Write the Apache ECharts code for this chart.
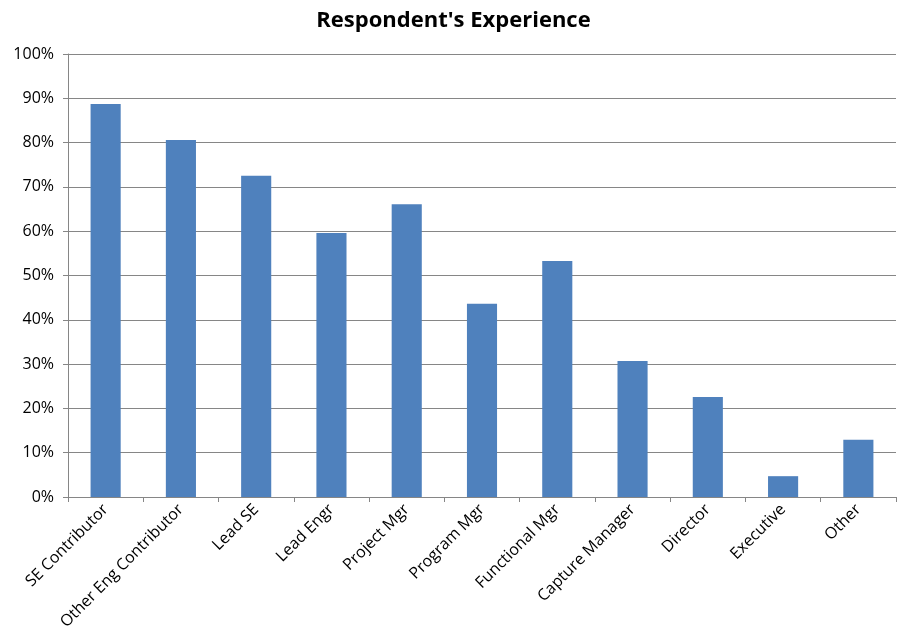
<!DOCTYPE html>
<html><head><meta charset="utf-8">
<script src="https://cdn.jsdelivr.net/npm/echarts@6/dist/echarts.min.js"></script>
<style>html,body{margin:0;padding:0;background:#fff}#c{width:907px;height:640px}</style>
</head><body><div id="c"></div>
<script>
const categories = ["SE Contributor","Other Eng Contributor","Lead SE","Lead Engr","Project Mgr","Program Mgr","Functional Mgr","Capture Manager","Director","Executive","Other"];
const values = [88.7, 80.6, 72.5, 59.6, 66.1, 43.6, 53.3, 30.7, 22.6, 4.7, 12.9];
const chart = echarts.init(document.getElementById('c'));
const F = "'Open Sans','Noto Sans',sans-serif";
chart.setOption({
  animation: false,
  title: {text: "Respondent's Experience", left: 'center', top: 5,
    textStyle: {fontFamily: F, fontWeight: 'bold', fontSize: 22, color: '#000'}},
  grid: {left: 68, right: 11, top: 54, bottom: 143, containLabel: false},
  xAxis: {type: 'category', data: categories,
    axisLine: {lineStyle: {color: '#868686', width: 1}},
    axisTick: {show: true, alignWithLabel: false, length: 5, lineStyle: {color: '#868686'}},
    axisLabel: {rotate: 45, interval: 0, fontFamily: F, fontSize: 16, color: '#000', margin: 10}},
  yAxis: {type: 'value', min: 0, max: 100, interval: 10,
    axisLine: {show: true, lineStyle: {color: '#868686'}},
    axisTick: {show: true, inside: false, length: 5, lineStyle: {color: '#868686'}},
    splitLine: {lineStyle: {color: '#868686', width: 1}},
    axisLabel: {formatter: '{value}%', fontFamily: F, fontSize: 16, color: '#000', margin: 14}},
  series: [{type: 'bar', data: values, barWidth: '40%',
    itemStyle: {color: '#4F81BD'}}]
});
</script></body></html>
